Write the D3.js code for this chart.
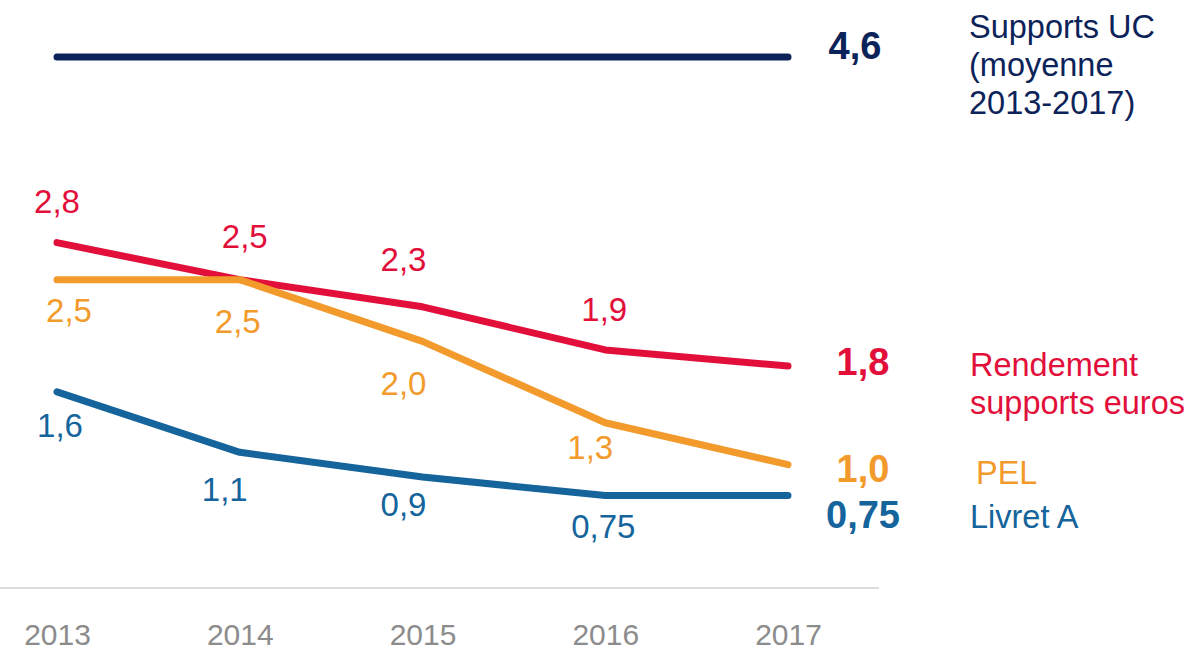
<!DOCTYPE html>
<html>
<head>
<meta charset="utf-8">
<script src="https://cdn.jsdelivr.net/npm/d3@7"></script>
<style>
  body { margin: 0; background: #fff; }
  text { font-family: Arial, "Liberation Sans", sans-serif; }
</style>
</head>
<body>
<div id="chart"></div>
<script>
// values
const years = [2013, 2014, 2015, 2016, 2017];
const supportsUC = [4.6, 4.6, 4.6, 4.6, 4.6];
const rendement = [2.8, 2.5, 2.28, 1.93, 1.8];
const pel = [2.5, 2.5, 2.0, 1.34, 1.0];
const livretA = [1.59, 1.1, 0.9, 0.75, 0.75];

// labels as printed on the chart
const rendementLabels = ['2,8', '2,5', '2,3', '1,9'];
const pelLabels = ['2,5', '2,5', '2,0', '1,3'];
const livretLabels = ['1,6', '1,1', '0,9', '0,75'];

const width = 1200;
const height = 664;

const svg = d3.select('#chart').append('svg')
  .attr('width', width)
  .attr('height', height);

const x = d3.scalePoint()
  .domain(years)
  .range([57, 788]);

// the chart is cut between 3 and 4.6 so the UC line sits near the top
const y = d3.scaleLinear()
  .domain([0, 3, 4.6])
  .range([588, 218, 57]);

// bottom axis
const axis = svg.append('g')
  .attr('transform', 'translate(0,588)')
  .call(d3.axisBottom(x).tickSize(0).tickPadding(36).tickFormat(d3.format('d')));
axis.select('.domain').remove();
axis.append('line')
  .attr('x1', 0).attr('x2', 879)
  .attr('stroke', '#dedede')
  .attr('stroke-width', 2);
axis.selectAll('.tick text')
  .style('font-size', '30px')
  .style('font-family', 'Arial, "Liberation Sans", sans-serif')
  .attr('fill', '#8c8c8c');

const line = d3.line()
  .x((d, i) => x(years[i]))
  .y(d => y(d));

const series = [
  { values: supportsUC, color: '#0c2359', labels: [], offsets: [],
    end: '4,6', endX: 855, endY: 59, legend: ['Supports UC', '(moyenne', '2013-2017)'], legendY: 38, legendX: 969 },
  { values: rendement, color: '#e20f3b', labels: rendementLabels,
    offsets: [[0, -30], [5, -32], [-19, -36], [-1, -29]],
    end: '1,8', endX: 863, endY: 375, legend: ['Rendement', 'supports euros'], legendY: 376, legendX: 970 },
  { values: pel, color: '#f29a2b', labels: pelLabels,
    offsets: [[12, 42], [-2, 53], [-19, 54], [-15, 36]],
    end: '1,0', endX: 863, endY: 482, legend: ['PEL'], legendY: 484, legendX: 976 },
  { values: livretA, color: '#15649c', labels: livretLabels,
    offsets: [[3, 45], [-15, 49], [-19, 39], [-2, 42]],
    end: '0,75', endX: 863, endY: 528, legend: ['Livret A'], legendY: 528, legendX: 970 }
];

series.forEach(s => {
  svg.append('path')
    .datum(s.values)
    .attr('d', line)
    .attr('fill', 'none')
    .attr('stroke', s.color)
    .attr('stroke-width', 7)
    .attr('stroke-linecap', 'round')
    .attr('stroke-linejoin', 'round');

  //value labels along the line
  svg.append('g').selectAll('text')
    .data(s.labels)
    .join('text')
    .attr('x', (d, i) => x(years[i]) + s.offsets[i][0])
    .attr('y', (d, i) => y(s.values[i]) + s.offsets[i][1])
    .attr('text-anchor', 'middle')
    .style('font-size', '33px')
    .attr('fill', s.color)
    .text(d => d);

  //bold last value
  svg.append('text')
    .attr('x', s.endX)
    .attr('y', s.endY)
    .attr('text-anchor', 'middle')
    .style('font-size', '38px')
    .style('font-weight', 'bold')
    .attr('fill', s.color)
    .text(s.end);

  //series name
  const lg = svg.append('text')
    .attr('x', s.legendX)
    .attr('y', s.legendY)
    .style('font-size', '32.5px')
    .attr('fill', s.color);
  lg.selectAll('tspan')
    .data(s.legend)
    .join('tspan')
    .attr('x', s.legendX)
    .attr('dy', (d, i) => i === 0 ? 0 : 38)
    .text(d => d);
});
</script>
</body>
</html>
